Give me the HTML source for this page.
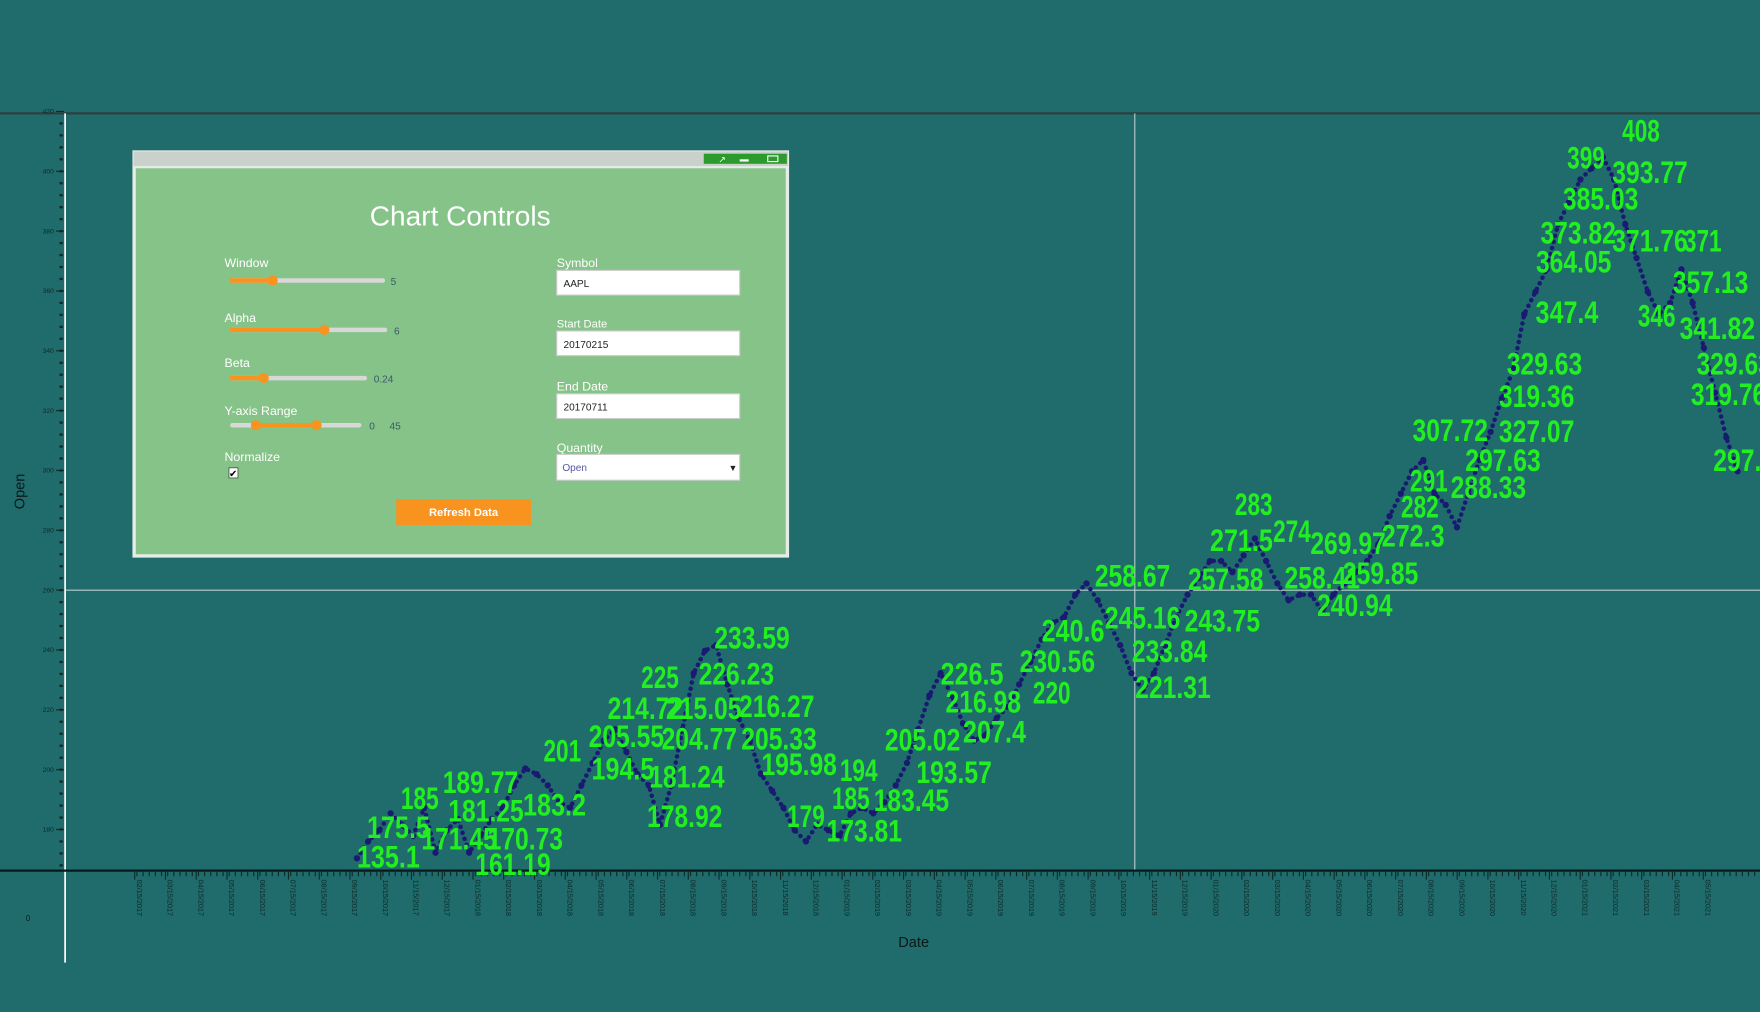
<!DOCTYPE html>
<html><head><meta charset="utf-8"><style>
html,body{margin:0;padding:0;background:#206b6b;overflow:hidden}
svg{display:block}
text{font-family:"Liberation Sans",sans-serif}
</style></head><body>
<svg id="chart" width="1760" height="1012" viewBox="0 0 1568 902" preserveAspectRatio="none" xmlns="http://www.w3.org/2000/svg">
<rect x="0" y="0" width="1568" height="902" fill="#206b6b"/>
<g id="axes"></g>
<g id="marks"></g>
<g id="labels"></g>
<g id="dialog">
  <rect x="118" y="134" width="585" height="363" fill="#e6ece6"/>
  <rect x="119" y="135" width="583" height="13" fill="#c9d1ca"/>
  <rect x="627" y="137" width="74" height="9" fill="#2c9a2c"/>
  <text x="640" y="145" font-size="8" fill="#fff">↗</text>
  <rect x="659" y="142" width="8" height="2" fill="#fff"/>
  <rect x="684" y="139" width="9" height="5" fill="none" stroke="#fff"/>
  <rect x="121" y="150" width="579" height="344" fill="#86c388"/>
  <text x="410" y="201" font-size="25" fill="#fff" text-anchor="middle">Chart Controls</text>

  <text x="200" y="238" font-size="11" fill="#fff">Window</text>
  <rect x="205" y="248" width="138" height="4" rx="2" fill="#d8d8d8"/>
  <rect x="205" y="248" width="38" height="4" fill="#f7931e"/>
  <circle cx="243" cy="250" r="4.5" fill="#f7931e"/>
  <text x="348" y="254" font-size="9" fill="#3a5a6a">5</text>

  <text x="200" y="287" font-size="11" fill="#fff">Alpha</text>
  <rect x="205" y="292" width="140" height="4" rx="2" fill="#d8d8d8"/>
  <rect x="205" y="292" width="84" height="4" fill="#f7931e"/>
  <circle cx="289" cy="294" r="4.5" fill="#f7931e"/>
  <text x="351" y="298" font-size="9" fill="#3a5a6a">6</text>

  <text x="200" y="327" font-size="11" fill="#fff">Beta</text>
  <rect x="205" y="335" width="122" height="4" rx="2" fill="#d8d8d8"/>
  <rect x="205" y="335" width="30" height="4" fill="#f7931e"/>
  <circle cx="235" cy="337" r="4.5" fill="#f7931e"/>
  <text x="333" y="341" font-size="9" fill="#3a5a6a">0.24</text>

  <text x="200" y="370" font-size="11" fill="#fff">Y-axis Range</text>
  <rect x="205" y="377" width="117" height="4" rx="2" fill="#d8d8d8"/>
  <rect x="228" y="377" width="54" height="4" fill="#f7931e"/>
  <circle cx="228" cy="379" r="4.5" fill="#f7931e"/>
  <circle cx="282" cy="379" r="4.5" fill="#f7931e"/>
  <text x="329" y="383" font-size="9" fill="#3a5a6a">0</text>
  <text x="347" y="383" font-size="9" fill="#3a5a6a">45</text>

  <text x="200" y="411" font-size="11" fill="#fff">Normalize</text>
  <rect x="204" y="417" width="8" height="9" fill="#fff" stroke="#333" stroke-width="0.6"/>
  <text x="204" y="425" font-size="9" fill="#000">✔</text>

  <text x="496" y="238" font-size="11" fill="#fff">Symbol</text>
  <rect x="496" y="241" width="163" height="22" fill="#fff" stroke="#ccc"/>
  <text x="502" y="256" font-size="9" fill="#222">AAPL</text>
  <text x="496" y="292" font-size="10" fill="#fff">Start Date</text>
  <rect x="496" y="295" width="163" height="22" fill="#fff" stroke="#ccc"/>
  <text x="502" y="310" font-size="9" fill="#222">20170215</text>
  <text x="496" y="348" font-size="11" fill="#fff">End Date</text>
  <rect x="496" y="351" width="163" height="22" fill="#fff" stroke="#ccc"/>
  <text x="502" y="366" font-size="9" fill="#222">20170711</text>
  <text x="496" y="403" font-size="11" fill="#fff">Quantity</text>
  <rect x="496" y="405" width="163" height="23" fill="#fff" stroke="#ccc"/>
  <text x="501" y="420" font-size="9" fill="#55a">Open</text>
  <text x="649" y="420" font-size="8" fill="#222">▼</text>
  <rect x="353" y="445" width="120" height="23" fill="#f7931e"/>
  <text x="413" y="460" font-size="10" font-weight="bold" fill="#fff" text-anchor="middle">Refresh Data</text>
</g>
</svg>
<script>
// ----- chart data -----
const openValues = [170.4,176,179.75,185.4,181.6,177.9,187.25,172.25,179.75,183.5,172.25,177.9,183.5,187.25,194.75,200.4,198.5,194.75,189.1,187.25,194.75,202.25,209.75,213.5,206,198.5,194.75,181.6,194.75,213.5,232.25,239.75,241.6,228.5,217.25,209.75,198.5,192.9,187.25,179.75,176,181.6,179.75,177.9,185.4,187.25,185.4,189.1,194.75,202.25,213.5,224.75,232.25,224.75,215.4,209.75,211.6,217.25,221,228.5,236,243.5,249.1,251,258.5,262.25,256.6,249.1,241.6,232.25,226.6,232.25,241.6,251,258.5,264.1,269.75,269.75,266,271.6,277.25,269.75,262.25,256.6,258.5,258.5,252.9,258.5,262.25,266,269.75,275.4,284.75,292.25,299.75,303.5,292.25,288.5,281,292.25,303.5,312.9,324.1,333.5,352.25,359.75,367.25,382.25,389.75,397.25,401,404.75,397.25,382.25,371,359.75,352.25,356,367.25,356,341,326,311,299.75];
const labelText = ["135.1","175.5","185","189.77","171.45","181.25","170.73","161.19","183.2","201","205.55","194.5","214.72","215.05","225","226.23","233.59","204.77","181.24","178.92","216.27","205.33","195.98","194","179","185","173.81","183.45","205.02","193.57","226.5","216.98","207.4","230.56","220","240.6","258.67","245.16","233.84","221.31","257.58","243.75","283","271.5","274","269.97","258.41","259.85","240.94","272.3","282","291","307.72","297.63","288.33","327.07","319.36","329.63","347.4","364.05","373.82","385.03","399","393.77","408","371.76","371","357.13","346","341.82","329.63","319.76","297.63"];
const labelIdx = [2.8,3.7,5.6,11.0,9.1,11.5,15.0,13.9,17.6,18.3,24.0,23.7,25.7,30.9,27.0,33.8,35.2,30.5,29.4,29.2,37.4,37.6,39.4,44.7,40.0,44.0,45.2,49.4,50.4,53.2,54.8,55.8,56.8,62.4,61.9,63.8,69.1,70.0,72.4,72.7,77.4,77.1,79.9,78.8,83.3,88.3,86.0,91.2,88.9,94.1,94.7,95.5,97.4,102.1,100.8,105.1,105.1,105.8,107.8,108.4,108.8,110.8,109.5,115.2,114.4,115.2,119.9,120.6,115.8,121.2,122.7,122.2,124.2];
const labelVal = [171.1,180.9,190.6,195.9,177.1,186.5,177.1,168.5,188.4,206.4,211.25,200.4,220.6,220.6,231.1,232.25,244.25,210.5,197.75,184.6,221.4,210.5,201.9,200,184.6,190.6,179.75,189.9,210.1,199.25,232.25,222.9,212.75,236.4,225.9,246.5,264.9,251,239.75,227.75,263.75,249.9,288.9,276.9,279.9,275.75,264.25,265.75,255.1,278.4,288.1,296.75,313.6,303.5,294.5,313.25,324.9,335.75,353,369.9,379.6,390.9,404.75,399.9,413.75,377,377,363.1,351.9,347.75,335.75,325.6,303.5];
const yTicks = [180,200,220,240,260,280,300,320,340,360,380,400,420];
const xTickLabels = [];
for (let i = 0; i < 52; i++) {
  const m = (1 + i) % 12 + 1, yr = 2017 + Math.floor((1 + i) / 12);
  xTickLabels.push(String(m).padStart(2,'0') + '/15/' + yr);
}

// ----- scales -----
const PLOT_L = 58, PLOT_R = 1568, PLOT_T = 101, PLOT_B = 776;
function xScale(i){ return 318 + i * 10; }
function yScale(v){ return 526 - (v - 260) * (8 / 3); }
function xTickScale(i){ return 120 + i * 27.4; }

const NS = 'http://www.w3.org/2000/svg';
function mk(tag, attrs, parent){
  const el = document.createElementNS(NS, tag);
  for (const k in attrs) el.setAttribute(k, attrs[k]);
  parent.appendChild(el);
  return el;
}
const axes = document.getElementById('axes');
const marks = document.getElementById('marks');
const labels = document.getElementById('labels');

let el = mk('line', {x1:0, y1:PLOT_T, x2:1568, y2:PLOT_T, stroke:'#2f3f3f', 'stroke-width':2}, axes);


el = mk('line', {x1:1011, y1:PLOT_T, x2:1011, y2:PLOT_B, stroke:'#b8cccc', 'stroke-width':1}, axes);


el = mk('line', {x1:PLOT_L, y1:526, x2:1568, y2:526, stroke:'#b8cccc', 'stroke-width':1}, axes);


el = mk('line', {x1:PLOT_L, y1:PLOT_T, x2:PLOT_L, y2:858, stroke:'#ffffff', 'stroke-width':1.5}, axes);


el = mk('line', {x1:0, y1:PLOT_B, x2:1568, y2:PLOT_B, stroke:'#0a1a1a', 'stroke-width':2}, axes);



for (let v = 160; v <= 420; v += 4) {
  const y = yScale(v);
  if (y < PLOT_T || y > PLOT_B) continue;
  el = mk('rect', {x:53, y:y-1, width:3, height:2, fill:'#0d2a2a'}, axes);
  
  
}
yTicks.forEach(v => {
  const y = yScale(v);
  el = mk('line', {x1:50, y1:y, x2:57, y2:y, stroke:'#0d2a2a', 'stroke-width':1}, axes);
  
  
  el = mk('text', {x:48, y:y+2, 'font-size':6, fill:'#0d2a2a', 'text-anchor':'end'}, axes);
  el.textContent = v;
  
  
});
el = mk('text', {x:22, y:438, 'font-size':13, fill:'#0a1a1a', 'text-anchor':'middle', transform:'rotate(-90 22 438)'}, axes);
el.textContent = 'Open';


el = mk('text', {x:25, y:821, 'font-size':7, fill:'#0a1a1a', 'text-anchor':'middle'}, axes);
el.textContent = '0';



for (let x = 122; x < 1568; x += 5.48) {
  el = mk('line', {x1:x, y1:PLOT_B, x2:x, y2:PLOT_B+5, stroke:'#0d2a2a', 'stroke-width':1}, axes);
  
  
}
xTickLabels.forEach((lab, i) => {
  const x = xTickScale(i);
  el = mk('line', {x1:x, y1:PLOT_B, x2:x, y2:PLOT_B+8, stroke:'#0d2a2a', 'stroke-width':1}, axes);
  
  
  el = mk('text', {x:x+2, y:784, 'font-size':6.5, fill:'#0d2a2a', transform:'rotate(90 '+(x+2)+' 784)', 'text-anchor':'start'}, axes);
  el.textContent = lab;
  
  
});
el = mk('text', {x:814, y:844, 'font-size':13, fill:'#0a1a1a', 'text-anchor':'middle'}, axes);
el.textContent = 'Date';



let d = '';
openValues.forEach((v, i) => { d += (i ? 'L' : 'M') + xScale(i) + ' ' + yScale(v); });
el = mk('path', {d:d, fill:'none', stroke:'#1a1a72', 'stroke-width':4, 'stroke-dasharray':'0.1 5.5', 'stroke-linecap':'round'}, marks);


openValues.forEach((v, i) => {
  el = mk('circle', {cx:xScale(i), cy:yScale(v), r:2.8, fill:'#1a1a72'}, marks);
  
  
});

labelText.forEach((t, i) => {
  el = mk('text', {x:xScale(labelIdx[i]), y:yScale(labelVal[i]) + 10, 'font-size':28, 'font-weight':'bold', fill:'#22ee22', 'text-anchor':'middle', textLength:(t.length * 11.2), lengthAdjust:'spacingAndGlyphs'}, labels);
  el.textContent = t;
  
  
});
</script>
</body></html>
